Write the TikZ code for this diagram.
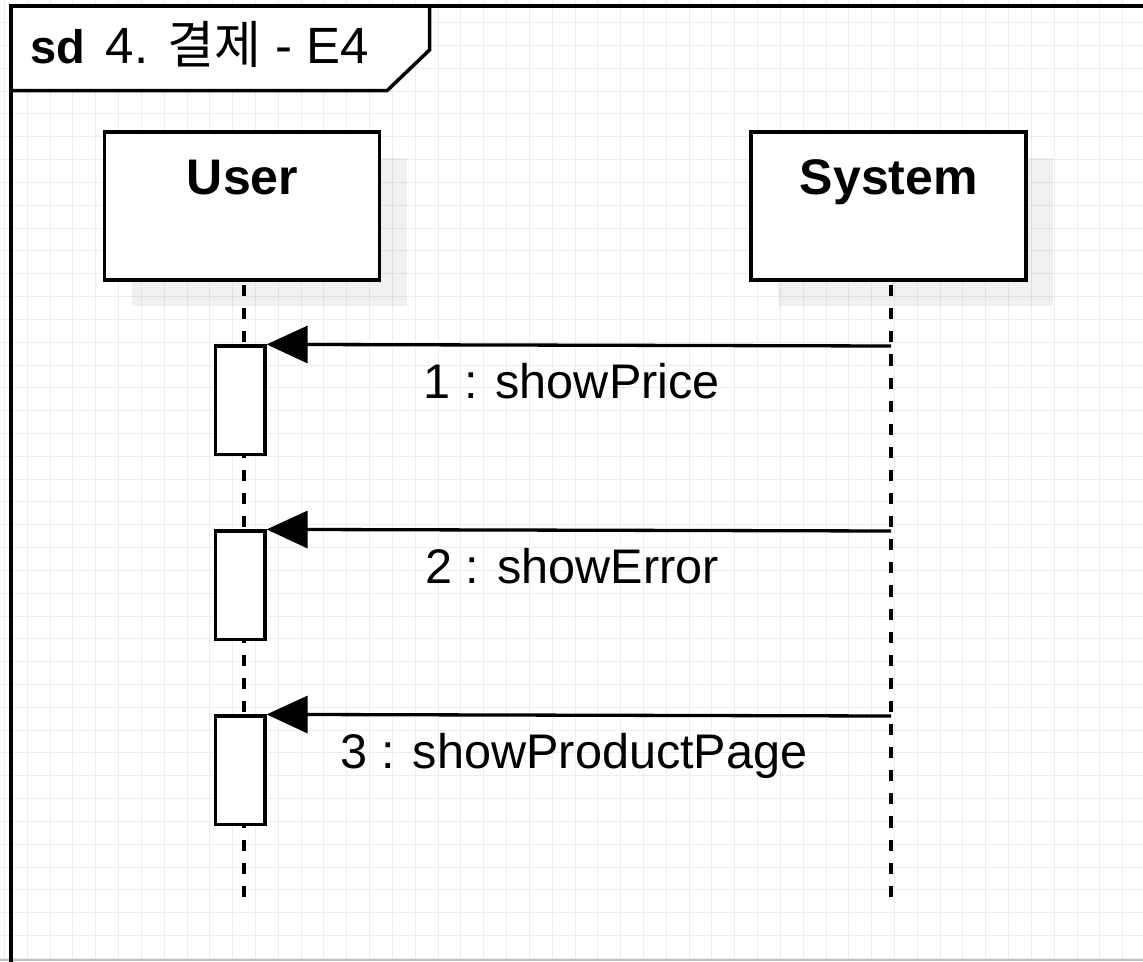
\documentclass[tikz,border=0pt]{standalone}
\usepackage{fontspec}
\setmainfont{Liberation Sans}
\newfontfamily\krfont{Noto Sans CJK KR}
\usetikzlibrary{arrows.meta,shadows}
\definecolor{gridcol}{HTML}{EDEDED}
\begin{document}
\begin{tikzpicture}[x=1pt,y=-1pt,
  gridline/.style={draw=gridcol,line width=1pt},
  frameline/.style={draw=black,line width=3.5pt,line join=miter},
  bigtext/.style={inner sep=0pt,font=\fontsize{48.6}{56}\selectfont},
  headtext/.style={inner sep=0pt,font=\fontsize{50}{58}\selectfont\bfseries},
  lifebox/.style={draw=black,fill=white,line width=3.5pt,inner sep=0pt,
    minimum width=275pt,minimum height=148pt,
    drop shadow={shadow xshift=27pt,shadow yshift=-26pt,fill=black,opacity=0.06}},
  actbox/.style={draw=black,fill=white,line width=3.3pt,inner sep=0pt,
    minimum width=49.3pt,minimum height=108.3pt},
  lifeline/.style={draw=black,line width=3.3pt,dash pattern=on 11.1pt off 12pt,dash phase=20pt},
  msg/.style={draw=black,line width=3.3pt,-{Triangle[length=41pt,width=37pt]}}]
\useasboundingbox (0,0) rectangle (1143,961);
\clip (0,0) rectangle (1143,961);
\fill[white] (0,0) rectangle (1143,961);
% grid
\foreach \i in {0,...,50} {\draw[gridline] ({4.5+22.82*\i},0) -- ({4.5+22.82*\i},961);}
\foreach \j in {-1,...,42} {\draw[gridline] (0,{22.7+22.82*\j}) -- (1143,{22.7+22.82*\j});}
\draw[draw=black!25,line width=1.5pt] (0,960.2) -- (1143,960.2);
% frame
\draw[frameline] (11,975) -- (11,6) -- (1160,6);
\draw[frameline,fill=white] (11,6) -- (429.5,6) -- (429.5,50) -- (387,90.7) -- (11,90.7) -- cycle;
\node[inner sep=0pt,font=\fontsize{47}{56}\selectfont\bfseries,anchor=base west] (sd) at (30,63.3) {sd};
\node[inner sep=0pt,font=\fontsize{51}{58}\selectfont,anchor=base west] (title) at (105.5,63.3) {4. {\krfont 결제} - E4};
% lifeline heads
\node[lifebox] (user) at (242,206) {};
\node[lifebox] (system) at (888.7,206) {};
\node[headtext,anchor=base] (usertxt) at (242.5,194) {User};
\node[headtext,anchor=base] (systxt) at (888.8,194) {System};
% lifelines
\coordinate (utop) at (244,282);
\coordinate (ubot) at (244,897);
\coordinate (stop) at (891,282);
\coordinate (sbot) at (891,897);
\draw[lifeline] (utop) -- (ubot);
\draw[lifeline] (stop) -- (sbot);
% activations
\node[actbox] (a1) at (240.3,400.2) {};
\node[actbox] (a2) at (240.3,585.2) {};
\node[actbox] (a3) at (240.3,770.2) {};
% messages
\coordinate (s1) at (891,346);
\coordinate (s2) at (891,531);
\coordinate (s3) at (891,716);
\draw[msg] (s1) -- (a1.north east);
\draw[msg] (s2) -- (a2.north east);
\draw[msg] (s3) -- (a3.north east);
\node[bigtext,anchor=base] (m1) at (571.7,398.3) {1 : showPrice};
\node[bigtext,anchor=base] (m2) at (572,583.3) {2 : showError};
\node[bigtext,anchor=base] (m3) at (574.2,768.3) {3 : showProductPage};
\end{tikzpicture}
\end{document}
